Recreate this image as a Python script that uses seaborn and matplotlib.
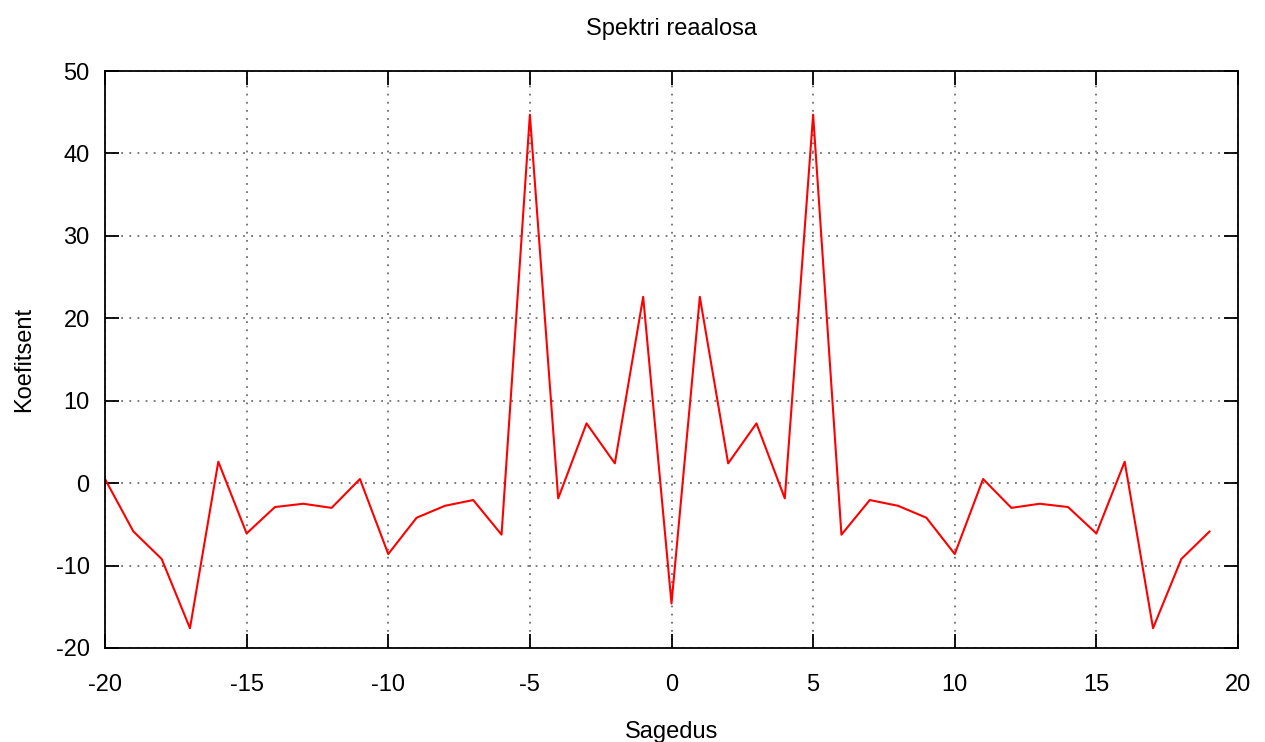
import matplotlib
matplotlib.use("Agg")
import matplotlib.pyplot as plt
import seaborn as sns
import pandas as pd

frequency = [-20, -19, -18, -17, -16, -15, -14, -13, -12, -11, -10, -9, -8, -7, -6, -5, -4, -3, -2, -1,
             0, 1, 2, 3, 4, 5, 6, 7, 8, 9, 10, 11, 12, 13, 14, 15, 16, 17, 18, 19]
coefficient = [0.5, -5.85, -9.2, -17.6, 2.6, -6.1, -2.9, -2.5, -3.0, 0.5, -8.6, -4.2, -2.75, -2.05, -6.25,
               44.7, -1.85, 7.25, 2.4, 22.6,
               -14.6, 22.6, 2.4, 7.25, -1.85, 44.7, -6.25, -2.05, -2.75, -4.2, -8.6, 0.5, -3.0, -2.5, -2.9,
               -6.1, 2.6, -17.6, -9.2, -5.85]
x_ticks = [-20, -15, -10, -5, 0, 5, 10, 15, 20]
y_ticks = [-20, -10, 0, 10, 20, 30, 40, 50]

df = pd.DataFrame({"Sagedus": frequency, "Koefitsent": coefficient})

sns.set_theme(style="white")
plt.rcParams['font.family'] = ['Liberation Sans', 'DejaVu Sans']
plt.rcParams['axes.unicode_minus'] = False

FS = 17

fig = plt.figure(figsize=(12.65, 7.42), dpi=100)
ax = fig.add_axes([105 / 1265, 1 - 648 / 742, (1238 - 105) / 1265, (648 - 71) / 742])

sns.lineplot(data=df, x="Sagedus", y="Koefitsent", ax=ax, color="#ff0000", linewidth=1.5)

ax.set_xlim(-20, 20)
ax.set_ylim(-20, 50)
ax.set_xticks(x_ticks)
ax.set_yticks(y_ticks)
ax.grid(True, linestyle=(0, (1, 3.5)), color="#707070", linewidth=1.3)
for s in ax.spines.values():
    s.set_color("black")
    s.set_linewidth(1.3)
ax.tick_params(direction="in", length=10, width=1.3, top=True, right=True, bottom=True, left=True,
               labelsize=FS, colors="black")
ax.tick_params(axis="x", pad=18.5)
ax.tick_params(axis="y", pad=11)
ax.set_title("Spektri reaalosa", fontsize=FS, pad=26, color="black")
ax.set_xlabel("Sagedus", fontsize=FS, labelpad=18.5, color="black")
ax.set_ylabel("Koefitsent", fontsize=FS, labelpad=15, color="black")

fig.savefig("out.png", dpi=100, facecolor="white")
